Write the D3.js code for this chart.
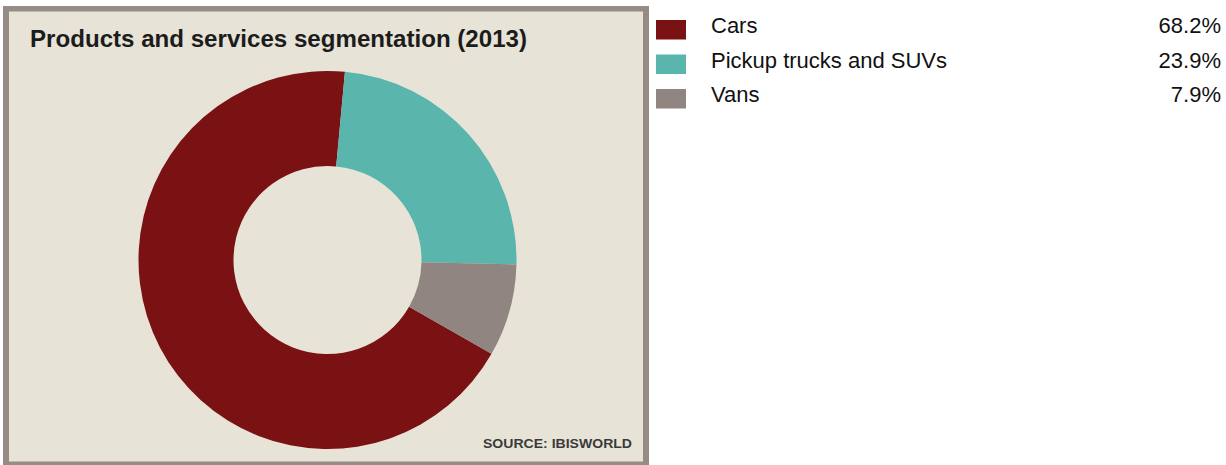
<!DOCTYPE html>
<html>
<head>
<meta charset="utf-8">
<script src="https://cdn.jsdelivr.net/npm/d3@7"></script>
<style>
  html, body { margin: 0; padding: 0; background: #ffffff; }
  svg { display: block; }
</style>
</head>
<body>
<svg id="chart"></svg>
<script>
/*
Chart data
 */
var categories = ["Cars", "Pickup trucks and SUVs", "Vans"];
var shares = [68.2, 23.9, 7.9];
var shareLabels = ["68.2%", "23.9%", "7.9%"];
var sliceColors = ["#7a1113", "#5ab5ac", "#918581"];

/*
Static constants
 */
const width = 1226;
const height = 465;
const cx = 327.5, cy = 260;
const outerR = 189, innerR = 94;
// pickup slice begins just right of 12 o'clock, so rotate the whole pie
const startDeg = 5.3 - shares[0] * 3.6;

var svg = d3.select("#chart")
    .attr("width", width)
    .attr("height", height);

//panel with thick grey-brown frame
svg.append("rect")
    .attr("x", 3).attr("y", 6)
    .attr("width", 646).attr("height", 462)
    .attr("fill", "#978b86");
svg.append("rect")
    .attr("x", 9).attr("y", 11.5)
    .attr("width", 634).attr("height", 450)
    .attr("fill", "#e8e3d7");

svg.append("text")
    .attr("x", 30).attr("y", 47)
    .attr("font-family", "Liberation Sans, Arial, sans-serif")
    .attr("font-weight", "bold")
    .attr("font-size", 24.5)
    .attr("fill", "#1c1c1c")
    .attr("textLength", 497)
    .attr("lengthAdjust", "spacingAndGlyphs")
    .text("Products and services segmentation (2013)");

//donut
var pie = d3.pie()
    .sort(null)
    .value(function(d) { return d.value; })
    .startAngle(startDeg * Math.PI / 180)
    .endAngle(startDeg * Math.PI / 180 + 2 * Math.PI);
var arc = d3.arc().innerRadius(innerR).outerRadius(outerR);
var color = d3.scaleOrdinal().domain(categories).range(sliceColors);

var slices = categories.map(function(c, i) { return {name: c, value: shares[i]}; });

svg.append("g")
    .attr("transform", "translate(" + cx + "," + cy + ")")
    .selectAll("path")
    .data(pie(slices))
    .enter().append("path")
    .attr("d", arc)
    .attr("fill", function(d) { return color(d.data.name); });

svg.append("text")
    .attr("x", 632).attr("y", 448)
    .attr("text-anchor", "end")
    .attr("font-family", "Liberation Sans, Arial, sans-serif")
    .attr("font-weight", "bold")
    .attr("font-size", 13)
    .attr("fill", "#3a3a3a")
    .attr("textLength", 149)
    .attr("lengthAdjust", "spacingAndGlyphs")
    .text("SOURCE: IBISWORLD");

//legend
var rowY = d3.scalePoint().domain(categories).range([0, 69]);
var legend = svg.append("g")
    .selectAll("g")
    .data(categories)
    .enter().append("g")
    .attr("transform", function(d) { return "translate(0," + rowY(d) + ")"; });

legend.append("rect")
    .attr("x", 656).attr("y", 20)
    .attr("width", 30).attr("height", 19.5)
    .attr("fill", function(d) { return color(d); });

legend.append("text")
    .attr("x", 711).attr("y", 33)
    .attr("font-family", "Liberation Sans, Arial, sans-serif")
    .attr("font-size", 22)
    .attr("fill", "#111")
    .text(function(d) { return d; });

legend.append("text")
    .attr("x", 1221).attr("y", 33)
    .attr("text-anchor", "end")
    .attr("font-family", "Liberation Sans, Arial, sans-serif")
    .attr("font-size", 22)
    .attr("fill", "#111")
    .text(function(d, i) { return shareLabels[i]; });
</script>
</body>
</html>
